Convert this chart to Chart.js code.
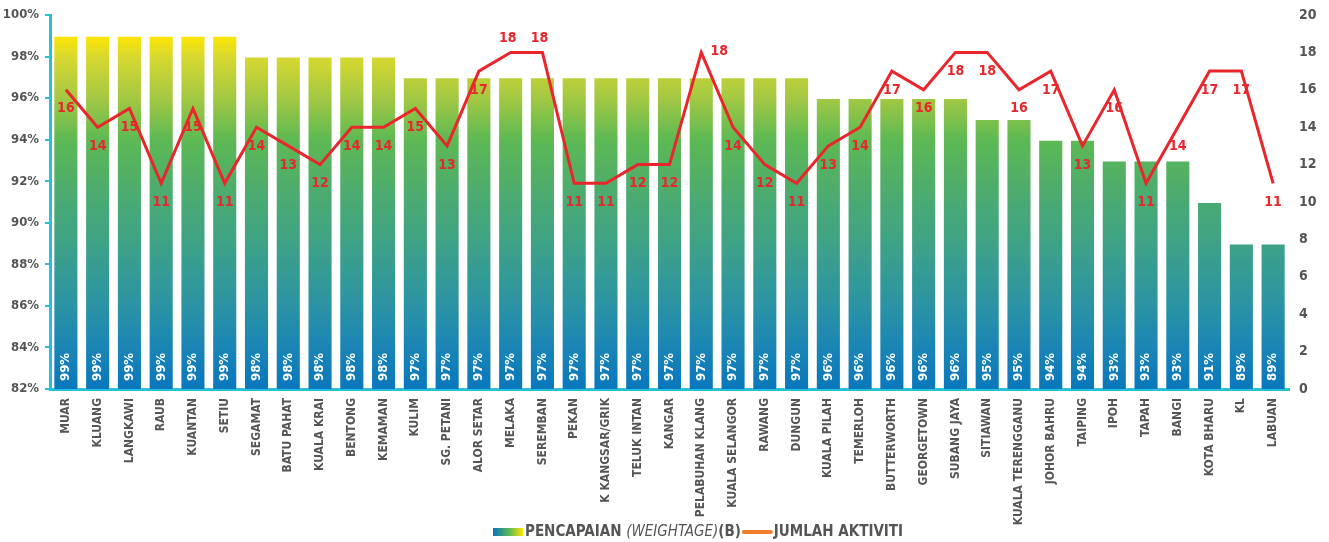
<!DOCTYPE html>
<html lang="ms">
<head>
  <meta charset="UTF-8">
  <title>Pencapaian &amp; Jumlah Aktiviti</title>
  <script src="https://cdn.jsdelivr.net/npm/chart.js"></script>
  <style>
    html, body { margin: 0; padding: 0; background: #fff; }
    #wrap { width: 1329px; height: 542px; position: relative; }
  </style>
</head>
<body>
  <div id="wrap">
    <canvas id="graf"></canvas>
  </div>

  <script>
    /* ---------- data ---------- */
    const cawangan = [
      'MUAR', 'KLUANG', 'LANGKAWI', 'RAUB', 'KUANTAN', 'SETIU', 'SEGAMAT',
      'BATU PAHAT', 'KUALA KRAI', 'BENTONG', 'KEMAMAN', 'KULIM', 'SG. PETANI',
      'ALOR SETAR', 'MELAKA', 'SEREMBAN', 'PEKAN', 'K KANGSAR/GRIK',
      'TELUK INTAN', 'KANGAR', 'PELABUHAN KLANG', 'KUALA SELANGOR', 'RAWANG',
      'DUNGUN', 'KUALA PILAH', 'TEMERLOH', 'BUTTERWORTH', 'GEORGETOWN',
      'SUBANG JAYA', 'SITIAWAN', 'KUALA TERENGGANU', 'JOHOR BAHRU', 'TAIPING',
      'IPOH', 'TAPAH', 'BANGI', 'KOTA BHARU', 'KL', 'LABUAN'
    ];

    // pencapaian (%)
    const pencapaian = [
      99, 99, 99, 99, 99, 99, 98, 98, 98, 98, 98, 97, 97,
      97, 97, 97, 97, 97, 97, 97, 97, 97, 97, 97, 96, 96,
      96, 96, 96, 95, 95, 94, 94, 93, 93, 93, 91, 89, 89
    ];

    // jumlah aktiviti
    const aktiviti = [
      16, 14, 15, 11, 15, 11, 14, 13, 12, 14, 14, 15, 13,
      17, 18, 18, 11, 11, 12, 12, 18, 14, 12, 11, 13, 14,
      17, 16, 18, 18, 16, 17, 13, 16, 11, 14, 17, 17, 11
    ];

    // paksi
    const paksiKiri  = { min: 82, max: 100, step: 2 };
    const paksiKanan = { min: 0,  max: 20,  step: 2 };

    /* ---------- gaya ---------- */
    const FONT   = "'DejaVu Sans Condensed', 'Liberation Sans Narrow', sans-serif";
    const KELABU = '#555555';
    const MERAH  = '#e8262b';
    const CYAN   = '#27c1d7';

    // warna kecerunan ikut nilai paksi kiri
    const hentian = [
      [82, '#0977bc'], [84, '#1a85b5'], [86, '#2b93a4'], [89, '#3ea287'],
      [92, '#50ae69'], [94, '#5db953'], [96, '#a3c843'], [98, '#d8d82f'],
      [99, '#ffe500']
    ];

    // label garisan: kebanyakan di bawah titik
    const labelAtas  = new Set([14, 15]);   // MELAKA, SEREMBAN
    const labelKanan = new Set([20]);       // PELABUHAN KLANG

    let cacheGrad = null, cacheKey = '';
    function kecerunan(chart) {
      const { ctx, chartArea, scales } = chart;
      if (!chartArea) return '#2b93a4';
      const y0 = scales.y.getPixelForValue(paksiKiri.min);
      const y1 = scales.y.getPixelForValue(paksiKiri.max);
      const key = y0 + ':' + y1;
      if (cacheGrad && cacheKey === key) return cacheGrad;
      const g = ctx.createLinearGradient(0, y0, 0, y1);
      const span = paksiKiri.max - paksiKiri.min;
      hentian.forEach(([v, c]) => g.addColorStop((v - paksiKiri.min) / span, c));
      cacheGrad = g; cacheKey = key;
      return g;
    }

    /* --- label % di dalam bar --- */
    const labelBar = {
      id: 'labelBar',
      afterDatasetsDraw(chart) {
        const { ctx, chartArea } = chart;
        const meta = chart.getDatasetMeta(0);
        ctx.save();
        ctx.fillStyle = '#ffffff';
        ctx.font = 'bold 13px ' + FONT;
        ctx.textAlign = 'left';
        ctx.textBaseline = 'middle';
        meta.data.forEach((bar, i) => {
          ctx.save();
          ctx.translate(bar.x, chartArea.bottom - 8);
          ctx.rotate(-Math.PI / 2);
          ctx.fillText(pencapaian[i] + '%', 0, 0);
          ctx.restore();
        });
        ctx.restore();
      }
    };

    /* --- label nilai garisan --- */
    const labelGaris = {
      id: 'labelGaris',
      afterDatasetsDraw(chart) {
        const { ctx } = chart;
        const meta = chart.getDatasetMeta(1);
        ctx.save();
        ctx.fillStyle = MERAH;
        ctx.font = 'bold 14px ' + FONT;
        ctx.textAlign = 'center';
        ctx.textBaseline = 'middle';
        meta.data.forEach((pt, i) => {
          let x = pt.x, y = pt.y + 19;
          if (labelAtas.has(i)) { x = pt.x - 3; y = pt.y - 14; }
          if (labelKanan.has(i)) { x = pt.x + 18; y = pt.y - 1; }
          ctx.fillText(String(aktiviti[i]), x, y);
        });
        ctx.restore();
      }
    };

    /* --- legenda di bawah --- */
    const legenda = {
      id: 'legenda',
      afterDraw(chart) {
        const { ctx } = chart;
        const y = 532;
        ctx.save();
        ctx.textBaseline = 'middle';
        ctx.fillStyle = KELABU;

        const bold   = 'bold 15px ' + FONT;
        const italic = 'italic 15px ' + FONT;
        const bahagian = [
          [bold, 'PENCAPAIAN '], [italic, '(WEIGHTAGE)'], [bold, '(B)']
        ];
        let x = 493;

        const g = ctx.createLinearGradient(x, 0, x + 30, 0);
        g.addColorStop(0, '#0977bc');
        g.addColorStop(0.55, '#5db953');
        g.addColorStop(1, '#ffe500');
        ctx.fillStyle = g;
        ctx.fillRect(x, y - 4, 30, 8);
        x += 32;

        ctx.fillStyle = KELABU;
        bahagian.forEach(([f, t]) => {
          ctx.font = f;
          ctx.fillText(t, x, y);
          x += ctx.measureText(t).width;
        });

        ctx.strokeStyle = '#ef7d2c';
        ctx.lineWidth = 4;
        ctx.lineCap = 'round';
        ctx.beginPath();
        ctx.moveTo(x + 3, y);
        ctx.lineTo(x + 30, y);
        ctx.stroke();
        x += 33;

        ctx.font = bold;
        ctx.fillText('JUMLAH AKTIVITI', x, y);
        ctx.restore();
      }
    };

    new Chart(document.getElementById('graf'), {
      data: {
        labels: cawangan,
        datasets: [
          {
            type: 'bar',
            label: 'PENCAPAIAN (WEIGHTAGE)(B)',
            data: pencapaian,
            yAxisID: 'y',
            backgroundColor: c => kecerunan(c.chart),
            borderColor: 'rgba(255,255,255,0.35)',
            borderWidth: 1,
            barPercentage: 0.79,
            categoryPercentage: 1,
            order: 2
          },
          {
            type: 'line',
            label: 'JUMLAH AKTIVITI',
            data: aktiviti,
            yAxisID: 'y1',
            borderColor: MERAH,
            borderWidth: 3,
            pointRadius: 0,
            tension: 0,
            order: 1
          }
        ]
      },
      options: {
        responsive: true,
        maintainAspectRatio: false,
        animation: false,
        layout: { padding: { top: 15, left: 0, right: 0, bottom: 0 } },
        plugins: {
          legend: { display: false },
          tooltip: { enabled: false }
        },
        scales: {
          x: {
            grid: { display: false, drawTicks: false },
            border: { color: CYAN, width: 3 },
            ticks: {
              autoSkip: false,
              minRotation: 90,
              maxRotation: 90,
              padding: 9,
              color: KELABU,
              font: { family: FONT, size: 12, weight: 'bold' }
            },
            afterFit: s => { s.height = 153; }
          },
          y: {
            position: 'left',
            min: paksiKiri.min,
            max: paksiKiri.max,
            // tanda kecil di luar paksi kiri
            grid: {
              display: true,
              drawOnChartArea: false,
              color: CYAN,
              lineWidth: 2,
              tickLength: 5
            },
            border: { color: CYAN, width: 3 },
            ticks: {
              stepSize: paksiKiri.step,
              padding: 6,
              color: KELABU,
              font: { family: FONT, size: 13, weight: 'bold', lineHeight: 0.6 },
              callback: v => v + '%'
            },
            afterFit: s => { s.width = 50; }
          },
          y1: {
            position: 'right',
            min: paksiKanan.min,
            max: paksiKanan.max,
            grid: { display: false, drawTicks: false },
            border: { display: false },
            ticks: {
              stepSize: paksiKanan.step,
              padding: 10,
              color: KELABU,
              font: { family: FONT, size: 14, weight: 'bold', lineHeight: 0.6 }
            },
            afterFit: s => { s.width = 40; }
          }
        }
      },
      plugins: [labelBar, labelGaris, legenda]
    });
  </script>
</body>
</html>
